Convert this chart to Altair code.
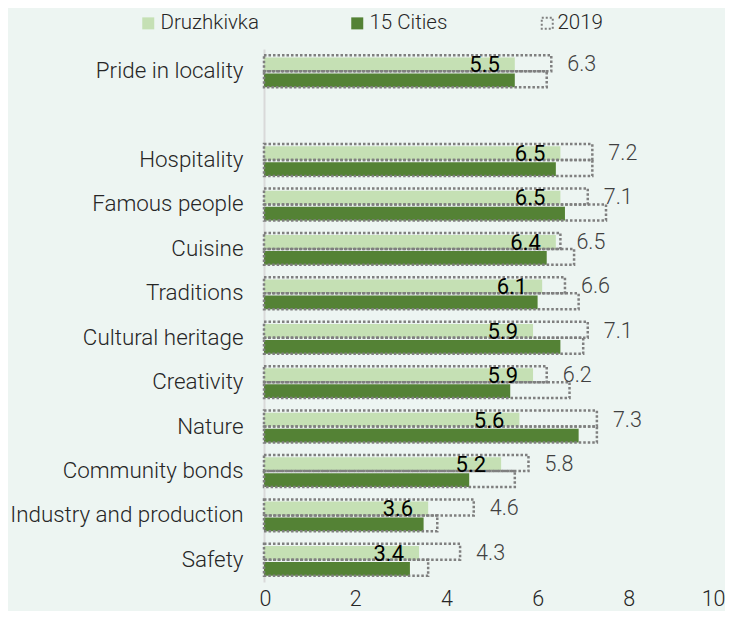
import altair as alt
import pandas as pd

categories = ["Pride in locality", "Hospitality", "Famous people", "Cuisine", "Traditions",
              "Cultural heritage", "Creativity", "Nature", "Community bonds",
              "Industry and production", "Safety"]
druzhkivka = [5.5, 6.5, 6.5, 6.4, 6.1, 5.9, 5.9, 5.6, 5.2, 3.6, 3.4]
cities15 = [5.5, 6.4, 6.6, 6.2, 6.0, 6.5, 5.4, 6.9, 4.5, 3.5, 3.2]
druzhkivka_2019 = [6.3, 7.2, 7.1, 6.5, 6.6, 7.1, 6.2, 7.3, 5.8, 4.6, 4.3]
cities15_2019 = [6.2, 7.2, 7.5, 6.8, 6.9, 7.0, 6.7, 7.3, 5.5, 3.8, 3.6]

y_domain = [categories[0], " "] + categories[1:]
series_names = ["Druzhkivka", "15 Cities"]

rows = []
for i, c in enumerate(categories):
    rows.append({"cat": c, "series": "Druzhkivka", "value": druzhkivka[i], "v2019": druzhkivka_2019[i]})
    rows.append({"cat": c, "series": "15 Cities", "value": cities15[i], "v2019": cities15_2019[i]})
df = pd.DataFrame(rows)
df["label2019"] = "2019"

FONT = "Roboto"
TXT = "#262626"

y_enc = alt.Y("cat:N", scale=alt.Scale(domain=y_domain, paddingInner=0.28, paddingOuter=0.14),
              axis=alt.Axis(title=None, ticks=False, domain=True, domainColor="#d9d9d9",
                            domainWidth=2, labelFontSize=22.4, labelFont=FONT, labelFontWeight=300,
                            labelColor=TXT, labelPadding=21, labelLimit=300))
yoff = alt.YOffset("series:N", scale=alt.Scale(domain=series_names, paddingInner=0, paddingOuter=0))
x_scale = alt.Scale(domain=[0, 10], nice=False)
x_axis = alt.Axis(title=None, values=[0, 2, 4, 6, 8, 10], grid=False, ticks=False, domain=False,
                  labelFontSize=21.5, labelFont=FONT, labelFontWeight=300, labelColor=TXT,
                  labelPadding=6, labelFlush=True, labelFlushOffset=5)

base = alt.Chart(df)

bars = base.mark_bar(height=alt.RelativeBandSize(0.86)).encode(
    y=y_enc,
    yOffset=yoff,
    x=alt.X("value:Q", scale=x_scale, axis=x_axis),
    color=alt.Color("series:N",
                    scale=alt.Scale(domain=series_names, range=["#c5e0b4", "#548235"]),
                    legend=alt.Legend(title=None, orient="none", direction="horizontal",
                                      legendX=-126, legendY=-36, symbolType="square",
                                      symbolSize=144, symbolStrokeWidth=0, labelFontSize=20.5,
                                      labelFont=FONT, labelFontWeight=300, labelColor=TXT,
                                      columnPadding=88, labelOffset=2)),
)

outline = base.mark_bar(fill="transparent", strokeWidth=2.5, strokeDash=[2.5, 2]).encode(
    y=y_enc,
    yOffset=yoff,
    x=alt.X("v2019:Q", scale=x_scale),
    stroke=alt.Stroke("label2019:N", scale=alt.Scale(domain=["2019"], range=["#7f7f7f"]),
                      legend=alt.Legend(title=None, orient="none", legendX=273, legendY=-36,
                                        symbolType="square", symbolSize=121,
                                        symbolDash=[2, 2], symbolStrokeWidth=2,
                                        symbolFillColor="transparent",
                                        symbolStrokeColor="#a6a6a6",
                                        labelFontSize=20.5, labelFont=FONT, labelFontWeight=300,
                                        labelColor=TXT, labelOffset=0)),
)

top = base.transform_filter(alt.datum.series == "Druzhkivka")

val_labels = top.mark_text(align="right", baseline="middle", dx=-15, dy=2, fontSize=22,
                           font=FONT, fontWeight=400, color="#000000").encode(
    y=y_enc, yOffset=yoff,
    x=alt.X("value:Q", scale=x_scale),
    text=alt.Text("value:Q", format=".1f"),
)

lab2019 = top.mark_text(align="left", baseline="middle", dx=16, dy=2, fontSize=21.5,
                        font=FONT, fontWeight=300, color="#404040").encode(
    y=y_enc, yOffset=yoff,
    x=alt.X("v2019:Q", scale=x_scale),
    text=alt.Text("v2019:Q", format=".1f"),
)

chart = alt.layer(bars, outline, val_labels, lab2019).properties(
    width=456, height=533,
    autosize=alt.AutoSizeParams(type="none"),
    padding={"left": 256, "top": 41, "right": 5, "bottom": 29},
    background="#edf5f2",
).configure_view(stroke=None)

chart.save("out.html", embed_options={"renderer": "svg", "actions": False})
